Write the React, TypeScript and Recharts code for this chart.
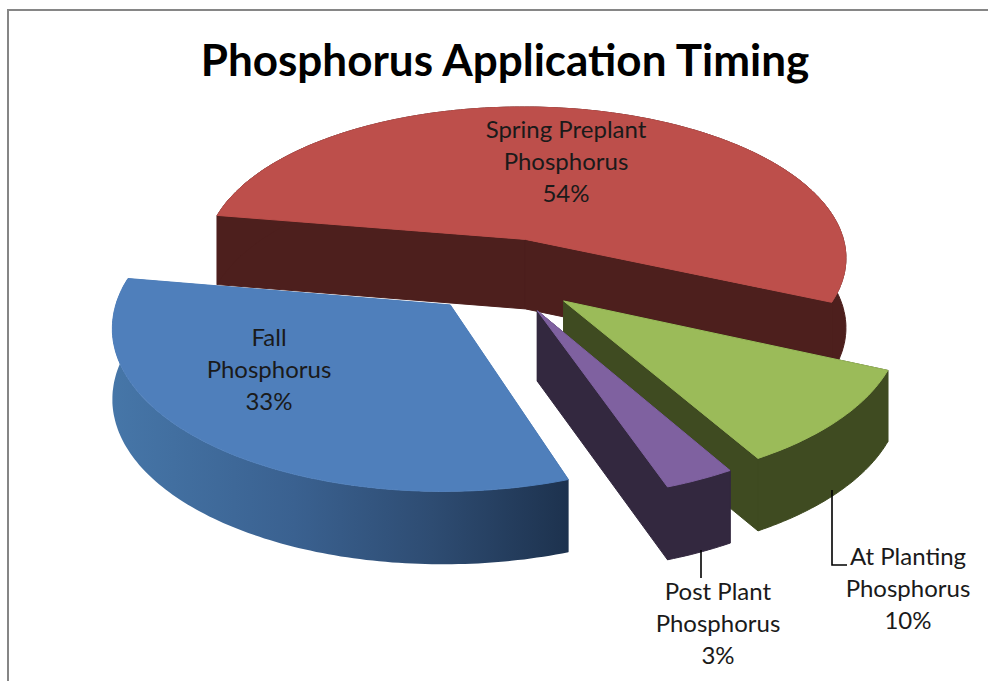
import React from 'react';
import { PieChart, Pie } from 'recharts';

const sliceNames = ['Spring Preplant Phosphorus', 'At Planting Phosphorus', 'Post Plant Phosphorus', 'Fall Phosphorus'];
const sliceValues = [54, 10, 3, 33];
const topColors = ['#BD4F4B', '#9BBB59', '#7F61A0', '#4F7FBB'];
const wallColors = ['#4D1F1D', '#3F4B21', '#33283F', 'url(#fallWall)'];
const labelLines = [
  ['Spring Preplant', 'Phosphorus'],
  ['At Planting', 'Phosphorus'],
  ['Post Plant', 'Phosphorus'],
  ['Fall', 'Phosphorus'],
];

const chartData = sliceNames.map((name, i) => ({ name, value: sliceValues[i] }));

// label anchor (centre x, first baseline) and leader line points per slice
const labelAnchors = [
  { x: 566, y: 138 },
  { x: 908, y: 565 },
  { x: 718, y: 600 },
  { x: 269, y: 346 },
];
const leaders = [null, '832,490 832,565 847,565', '701,550 701,578', null];

const EXPLODE = 80;
const TILT = 0.478;
const PERSPECTIVE = 0.12;
const DEPTH = 70;
const RAD = Math.PI / 180;

const Slice3D = (props: any) => {
  const { cx, cy, outerRadius: R, startAngle, endAngle, index } = props;
  const mid = (startAngle + endAngle) / 2;
  const ox = EXPLODE * Math.cos(mid * RAD);
  const oy = -EXPLODE * Math.sin(mid * RAD);

  // disc point -> screen, front of the disc drawn larger
  const project = (angle: number, r: number, z: number) => {
    const u = r * Math.cos(angle * RAD) + ox;
    const v = -r * Math.sin(angle * RAD) + oy;
    const s = 1 / (1 - (PERSPECTIVE * v) / R);
    const drop = z * (1 + 0.25 * (s - 1));
    return `${(cx + u * s).toFixed(1)},${(cy + v * TILT * s + drop).toFixed(1)}`;
  };

  const arc = (z: number) => {
    const pts: string[] = [];
    const steps = Math.max(2, Math.ceil(Math.abs(endAngle - startAngle)));
    for (let i = 0; i <= steps; i++) {
      pts.push(project(startAngle + ((endAngle - startAngle) * i) / steps, R, z));
    }
    return pts;
  };

  const wall = wallColors[index % wallColors.length];
  const top = topColors[index % topColors.length];
  const face = (angle: number) =>
    [project(0, 0, 0), project(angle, R, 0), project(angle, R, DEPTH), project(0, 0, DEPTH)].join(' ');
  const seam = index === 3 ? 'none' : wall;

  return (
    <g>
      <polygon points={face(startAngle)} fill={wall} stroke={seam} />
      <polygon points={face(endAngle)} fill={wall} stroke={seam} />
      <polygon points={arc(0).concat(arc(DEPTH).reverse()).join(' ')} fill={wall} stroke={seam} />
      <polygon points={[project(0, 0, 0), ...arc(0)].join(' ')} fill={top} stroke={top} />
    </g>
  );
};

const renderLabel = (props: any) => {
  const { index, value } = props;
  const anchor = labelAnchors[index];
  const leader = leaders[index];
  return (
    <g key={index}>
      {leader && <polyline points={leader} fill="none" stroke="#000" strokeWidth={1.6} />}
      <text x={anchor.x} y={anchor.y} textAnchor="middle" fontFamily="Lato, sans-serif" fontSize={24} fill="#1a1a1a">
        {labelLines[index].map((line, i) => (
          <tspan key={line} x={anchor.x} dy={i === 0 ? 0 : 32}>{line}</tspan>
        ))}
        <tspan x={anchor.x} dy={32}>{value}%</tspan>
      </text>
    </g>
  );
};

export default function App() {
  return (
    <div style={{ position: 'absolute', left: 0, top: 0, width: 988, height: 681, background: '#fff', overflow: 'hidden' }}>
      <div style={{ position: 'absolute', left: 7, top: 9, width: 990, height: 700, border: '2px solid #868686', boxSizing: 'border-box' }} />
      <PieChart width={988} height={681} margin={{ top: 0, right: 0, bottom: 0, left: 0 }}>
        <defs>
          <linearGradient id="fallWall" x1="0" y1="0" x2="1" y2="0">
            <stop offset="0%" stopColor="#4676A8" />
            <stop offset="40%" stopColor="#3A6190" />
            <stop offset="70%" stopColor="#2E4C72" />
            <stop offset="100%" stopColor="#1D324E" />
          </linearGradient>
        </defs>
        <text x={505} y={76} textAnchor="middle" fontFamily="Lato, sans-serif" fontWeight={700} fontSize={44} fill="#000">
          Phosphorus Application Timing
        </text>
        <Pie
          data={chartData}
          dataKey="value"
          nameKey="name"
          cx={503}
          cy={275}
          innerRadius={0}
          outerRadius={327}
          startAngle={170.5}
          endAngle={-189.5}
          stroke="none"
          shape={Slice3D}
          label={renderLabel}
          labelLine={false}
          isAnimationActive={false}
        />
      </PieChart>
    </div>
  );
}
